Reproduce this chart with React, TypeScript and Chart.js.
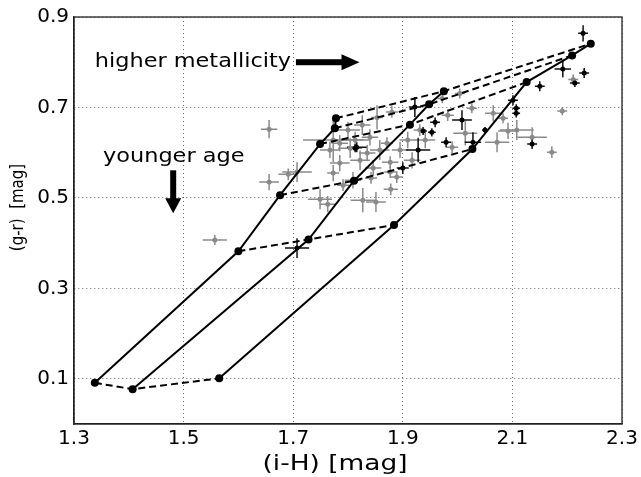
import { useEffect, useRef } from "react";
import { Chart, registerables } from "chart.js";

Chart.register(...registerables);

// Axis ticks
const xTicks = [1.3, 1.5, 1.7, 1.9, 2.1, 2.3];
const yTicks = [0.1, 0.3, 0.5, 0.7, 0.9];

// Model tracks (three metallicities, six ages each)
const lowZX = [1.338, 1.6, 1.676, 1.749, 1.776, 1.778];
const lowZY = [0.091, 0.382, 0.506, 0.619, 0.654, 0.676];
const midZX = [1.407, 1.728, 1.811, 1.913, 1.948, 1.975];
const midZY = [0.077, 0.408, 0.538, 0.662, 0.707, 0.736];
const highZX = [1.565, 1.884, 2.027, 2.126, 2.209, 2.243];
const highZY = [0.101, 0.44, 0.608, 0.756, 0.815, 0.841];

// Observed clusters (grey)
const grayX = [1.656, 1.656, 1.691, 1.707, 1.557, 1.749, 1.763, 1.827, 1.851, 1.878, 1.842, 1.791, 1.88, 2.211, 2.191, 2.172, 2.136, 2.108, 2.092, 2.072, 2.065, 2.026, 1.982, 1.972, 2.014, 1.99, 2.004, 2.083, 1.84, 1.785, 1.767, 1.804, 1.835, 1.858, 1.871, 1.877, 1.822, 1.785, 1.846, 1.877, 1.773, 1.809, 1.889, 1.773, 1.853, 1.909, 1.931, 1.895, 1.8, 1.826, 1.941, 1.917, 1.813];
const grayY = [0.652, 0.535, 0.552, 0.557, 0.407, 0.497, 0.486, 0.495, 0.491, 0.519, 0.544, 0.528, 0.69, 0.762, 0.692, 0.601, 0.634, 0.65, 0.648, 0.623, 0.687, 0.698, 0.683, 0.72, 0.643, 0.612, 0.731, 0.676, 0.634, 0.621, 0.606, 0.61, 0.599, 0.606, 0.621, 0.579, 0.583, 0.577, 0.566, 0.557, 0.555, 0.539, 0.546, 0.628, 0.678, 0.628, 0.65, 0.606, 0.65, 0.661, 0.628, 0.583, 0.628];
const grayXErr = [0.015, 0.018, 0.018, 0.027, 0.022, 0.022, 0.015, 0.022, 0.018, 0.013, 0.011, 0.011, 0.011, 0.009, 0.009, 0.009, 0.027, 0.031, 0.018, 0.022, 0.015, 0.009, 0.011, 0.009, 0.022, 0.011, 0.009, 0.009, 0.015, 0.015, 0.018, 0.022, 0.015, 0.018, 0.011, 0.015, 0.018, 0.018, 0.015, 0.011, 0.011, 0.015, 0.011, 0.055, 0.011, 0.015, 0.011, 0.015, 0.022, 0.015, 0.018, 0.015, 0.027];
const grayYErr = [0.02, 0.018, 0.013, 0.022, 0.011, 0.022, 0.018, 0.027, 0.022, 0.013, 0.013, 0.013, 0.013, 0.011, 0.009, 0.013, 0.022, 0.022, 0.018, 0.022, 0.018, 0.011, 0.013, 0.011, 0.027, 0.013, 0.011, 0.011, 0.018, 0.018, 0.018, 0.022, 0.018, 0.022, 0.013, 0.013, 0.022, 0.018, 0.018, 0.013, 0.018, 0.018, 0.013, 0.049, 0.027, 0.018, 0.013, 0.018, 0.018, 0.022, 0.018, 0.018, 0.018];

// Observed clusters (black)
const blackX = [1.707, 1.816, 1.922, 1.928, 1.937, 1.959, 1.979, 2.008, 2.028, 2.05, 2.101, 2.107, 2.107, 2.136, 2.15, 2.192, 2.229, 2.231, 2.214, 1.9, 1.953, 1.813];
const blackY = [0.389, 0.612, 0.701, 0.606, 0.648, 0.667, 0.623, 0.672, 0.623, 0.65, 0.716, 0.698, 0.687, 0.619, 0.747, 0.785, 0.864, 0.776, 0.754, 0.566, 0.645, 0.61];
const blackXErr = [0.022, 0.018, 0.011, 0.022, 0.007, 0.009, 0.009, 0.018, 0.015, 0.005, 0.009, 0.007, 0.007, 0.009, 0.009, 0.015, 0.009, 0.009, 0.009, 0.011, 0.007, 0.007];
const blackYErr = [0.022, 0.011, 0.022, 0.027, 0.009, 0.011, 0.011, 0.022, 0.022, 0.007, 0.011, 0.009, 0.009, 0.011, 0.011, 0.018, 0.018, 0.011, 0.009, 0.013, 0.009, 0.009];

const FONT = '"DejaVu Sans", sans-serif';

function stretchedText(ctx: CanvasRenderingContext2D, text: string, x: number, y: number, sx: number) {
  ctx.save();
  ctx.translate(x, y);
  ctx.scale(sx, 1);
  ctx.fillText(text, 0, 0);
  ctx.restore();
}

const decorPlugin = {
  id: "decor",
  beforeDatasetsDraw(chart: any) {
    const { ctx, scales } = chart;
    const xs = scales.x;
    const ys = scales.y;
    const dsList = chart.data.datasets;
    ctx.save();
    ctx.beginPath();
    ctx.rect(chart.chartArea.left, chart.chartArea.top, chart.chartArea.right - chart.chartArea.left, chart.chartArea.bottom - chart.chartArea.top);
    ctx.clip();
    for (let d = dsList.length - 1; d >= 0; d--) {
      const ds = dsList[d];
      if (!ds.xErr) continue;
      ctx.strokeStyle = ds.errColor;
      ctx.lineWidth = 1.5;
      ds.data.forEach((p: any, i: number) => {
        const cx = xs.getPixelForValue(p.x);
        const cy = ys.getPixelForValue(p.y);
        const x0 = xs.getPixelForValue(p.x - ds.xErr[i]);
        const x1 = xs.getPixelForValue(p.x + ds.xErr[i]);
        const y0 = ys.getPixelForValue(p.y - ds.yErr[i]);
        const y1 = ys.getPixelForValue(p.y + ds.yErr[i]);
        ctx.beginPath();
        ctx.moveTo(x0, cy);
        ctx.lineTo(x1, cy);
        ctx.moveTo(cx, y0);
        ctx.lineTo(cx, y1);
        ctx.stroke();
      });
    }
    ctx.restore();
  },
  afterDraw(chart: any) {
    const { ctx, scales, chartArea } = chart;
    const xs = scales.x;
    const ys = scales.y;
    ctx.save();
    // frame
    ctx.strokeStyle = "#222";
    ctx.lineWidth = 1.3;
    ctx.strokeRect(chartArea.left, chartArea.top, chartArea.right - chartArea.left, chartArea.bottom - chartArea.top);

    ctx.fillStyle = "#000";
    ctx.font = `20px ${FONT}`;
    ctx.textBaseline = "middle";
    ctx.textAlign = "left";
    // annotations
    stretchedText(ctx, "higher metallicity", xs.getPixelForValue(1.338), ys.getPixelForValue(0.8), 1.12);
    stretchedText(ctx, "younger age", xs.getPixelForValue(1.353), ys.getPixelForValue(0.59), 1.12);

    // right arrow
    const ay = ys.getPixelForValue(0.8);
    const ax0 = xs.getPixelForValue(1.705);
    const ax1 = xs.getPixelForValue(1.821);
    ctx.fillRect(ax0, ay - 3, ax1 - ax0 - 16, 6);
    ctx.beginPath();
    ctx.moveTo(ax1 - 18, ay - 8);
    ctx.lineTo(ax1, ay);
    ctx.lineTo(ax1 - 18, ay + 8);
    ctx.closePath();
    ctx.fill();

    // down arrow
    const dx = xs.getPixelForValue(1.481);
    const dy0 = ys.getPixelForValue(0.561);
    const dy1 = ys.getPixelForValue(0.466);
    ctx.fillRect(dx - 3, dy0, 6, dy1 - dy0 - 13);
    ctx.beginPath();
    ctx.moveTo(dx - 8, dy1 - 15);
    ctx.lineTo(dx, dy1);
    ctx.lineTo(dx + 8, dy1 - 15);
    ctx.closePath();
    ctx.fill();

    // axis titles
    ctx.textAlign = "center";
    ctx.font = `22px ${FONT}`;
    stretchedText(ctx, "(i-H) [mag]", (chartArea.left + chartArea.right) / 2 - 13, 464, 1.2);
    ctx.font = `15px ${FONT}`;
    ctx.translate(19, (chartArea.top + chartArea.bottom) / 2 - 13);
    ctx.rotate(-Math.PI / 2);
    ctx.scale(1, 1.12);
    ctx.fillText("(g-r)  [mag]", 0, 0);
    ctx.restore();
  },
};

export default function App() {
  const ref = useRef<HTMLCanvasElement>(null);

  useEffect(() => {
    if (!ref.current) return;
    const tracks: number[][][] = [
      [lowZX, lowZY],
      [midZX, midZY],
      [highZX, highZY],
    ];
    const datasets: any[] = [];
    tracks.forEach(([xs, ys]) => {
      datasets.push({
        data: xs.map((x, i) => ({ x, y: ys[i] })),
        showLine: true,
        borderColor: "#000",
        borderWidth: 2,
        pointRadius: 4,
        pointBackgroundColor: "#000",
        pointBorderWidth: 0,
        tension: 0,
      });
    });
    for (let a = 0; a < lowZX.length; a++) {
      datasets.push({
        data: tracks.map(([xs, ys]) => ({ x: xs[a], y: ys[a] })),
        showLine: true,
        borderColor: "#000",
        borderWidth: 2,
        borderDash: [7, 4],
        pointRadius: 0,
        tension: 0,
      });
    }
    datasets.push({
      data: blackX.map((x, i) => ({ x, y: blackY[i] })),
      xErr: blackXErr,
      yErr: blackYErr,
      errColor: "#111",
      pointRadius: 2.5,
      backgroundColor: "#000",
      pointBorderWidth: 0,
    });
    datasets.push({
      data: grayX.map((x, i) => ({ x, y: grayY[i] })),
      xErr: grayXErr,
      yErr: grayYErr,
      errColor: "#8a8a8a",
      pointRadius: 2.5,
      backgroundColor: "#8a8a8a",
      pointBorderWidth: 0,
    });

    const tickFont = { family: FONT, size: 20 };
    const chart = new Chart(ref.current, {
      type: "scatter",
      data: { datasets },
      plugins: [decorPlugin],
      options: {
        animation: false,
        responsive: false,
        events: [],
        layout: { padding: { left: 0, right: 19, top: 17, bottom: 0 } },
        plugins: { legend: { display: false }, tooltip: { enabled: false } },
        scales: {
          x: {
            type: "linear",
            min: 1.3,
            max: 2.3,
            afterBuildTicks: (s: any) => {
              s.ticks = xTicks.map((v) => ({ value: v }));
            },
            afterFit: (s: any) => {
              s.height = 53;
            },
            ticks: {
              font: tickFont,
              color: "#000",
              padding: 3,
              maxRotation: 0,
              autoSkip: false,
              callback: (v: any) => Number(v).toFixed(1),
            },
            grid: { color: "#666", lineWidth: 1, drawTicks: false },
            border: { color: "#222", width: 1.3, dash: [1, 3] },
          },
          y: {
            type: "linear",
            min: 0,
            max: 0.9,
            afterBuildTicks: (s: any) => {
              s.ticks = yTicks.map((v) => ({ value: v }));
            },
            afterFit: (s: any) => {
              s.width = 74;
            },
            ticks: {
              font: tickFont,
              color: "#000",
              padding: 5,
              autoSkip: false,
              callback: (v: any) => Number(v).toFixed(1),
            },
            grid: { color: "#666", lineWidth: 1, drawTicks: false },
            border: { color: "#222", width: 1.3, dash: [1, 3] },
          },
        },
      } as any,
    });
    return () => chart.destroy();
  }, []);

  return (
    <div style={{ position: "fixed", left: 0, top: 0, width: 641, height: 477, background: "#fff" }}>
      <canvas ref={ref} width={641} height={477} />
    </div>
  );
}
